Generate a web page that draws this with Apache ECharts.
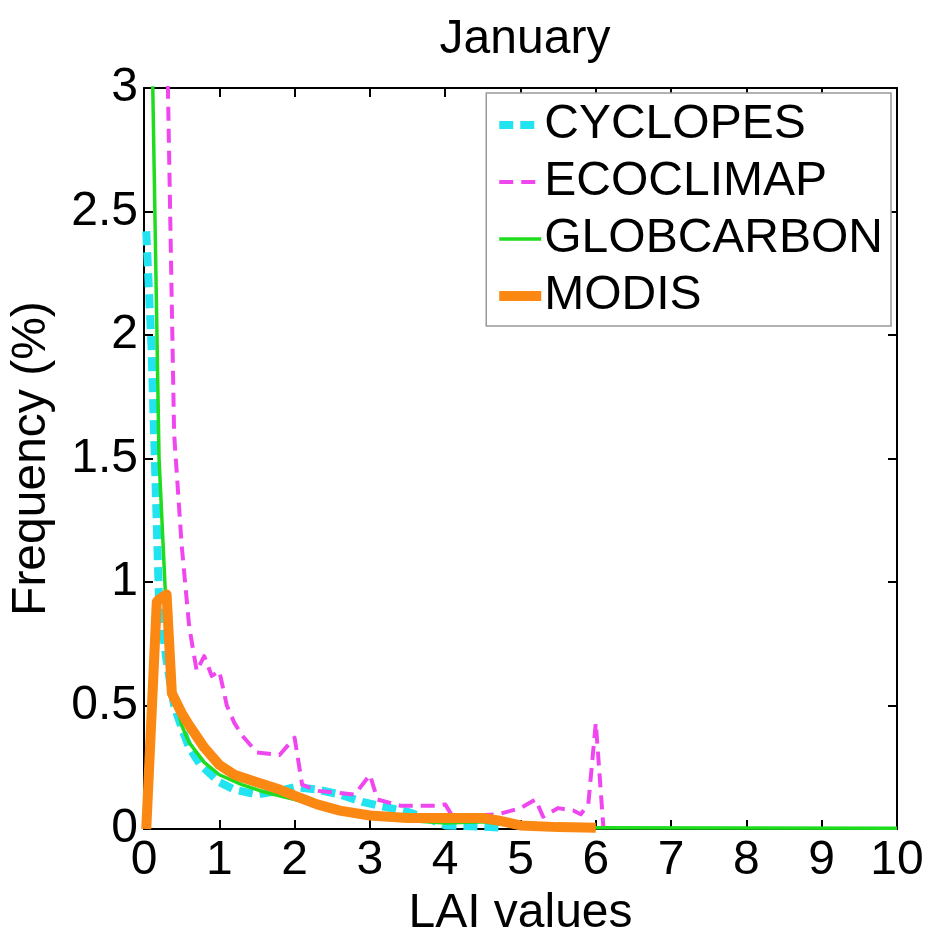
<!DOCTYPE html>
<html><head><meta charset="utf-8">
<script src="https://cdn.jsdelivr.net/npm/echarts@6/dist/echarts.min.js"></script>
<style>html,body{margin:0;padding:0;background:#fff}#c{width:928px;height:943px}</style>
</head><body><div id="c"></div>
<script>
const xTicks = [0,1,2,3,4,5,6,7,8,9,10];
const yTicks = [0,0.5,1,1.5,2,2.5,3];
const seriesNames = ['CYCLOPES','ECOCLIMAP','GLOBCARBON','MODIS'];

const cyclopesX = [0.03,0.1,0.2,0.3,0.4,0.5,0.6,0.75,1.0,1.2,1.5,1.8,2.0,2.3,2.6,2.9,3.2,3.5,3.8,4.0,4.5,4.8];
const cyclopesY = [2.42,1.95,0.92,0.68,0.5,0.41,0.33,0.26,0.19,0.16,0.14,0.155,0.17,0.16,0.14,0.11,0.09,0.07,0.04,0.015,0.01,0.005];

const ecoclimapX = [0.2,0.3,0.4,0.5,0.6,0.7,0.8,0.9,1.0,1.1,1.2,1.3,1.5,1.8,2.0,2.1,2.3,2.8,3.0,3.1,3.4,3.9,4.0,4.1,4.7,5.0,5.2,5.3,5.5,5.7,5.8,5.9,6.0,6.1];
const ecoclimapY = [8,3.3,1.6,1.15,0.82,0.64,0.7,0.62,0.64,0.5,0.43,0.38,0.31,0.3,0.37,0.18,0.155,0.14,0.22,0.12,0.095,0.095,0.1,0.05,0.06,0.085,0.12,0.05,0.085,0.075,0.06,0.1,0.43,0.01];

const globcarbonX = [0.0,0.1,0.2,0.3,0.4,0.5,0.6,0.8,1.0,1.3,1.6,2.0,2.5,3.0,3.5,4.0,4.5,5.0,6.0,10];
const globcarbonY = [8.0,3.3,1.5,0.85,0.55,0.42,0.35,0.27,0.22,0.18,0.15,0.12,0.08,0.05,0.035,0.025,0.03,0.01,0.005,0.003];

const modisX = [0.03,0.17,0.2,0.3,0.37,0.5,0.6,0.8,1.0,1.2,1.5,1.8,2.0,2.3,2.6,3.0,3.5,4.0,4.5,4.7,5.0,5.5,6.0];
const modisY = [0.0,0.92,0.93,0.95,0.55,0.47,0.42,0.33,0.26,0.22,0.19,0.16,0.135,0.1,0.075,0.055,0.045,0.045,0.045,0.035,0.015,0.008,0.005];

const pairs = (xs, ys) => xs.map((x, i) => [x, ys[i]]);
const FONT = 'Liberation Sans';
const FS = 48;

const styles = [
  {color: '#22e4f0', width: 8, type: [14, 7]},
  {color: '#f046f0', width: 4, type: [14, 8]},
  {color: '#1fdc1f', width: 3.5, type: 'solid'},
  {color: '#fa8812', width: 10, type: 'solid'}
];
const seriesData = [
  pairs(cyclopesX, cyclopesY), pairs(ecoclimapX, ecoclimapY),
  pairs(globcarbonX, globcarbonY), pairs(modisX, modisY)
];

const chart = echarts.init(document.getElementById('c'), null, {renderer: 'canvas'});
const axisBase = {
  axisLine: {show: true, onZero: false, lineStyle: {color: '#000', width: 2}},
  axisTick: {show: true, inside: true, length: 9, lineStyle: {color: '#000', width: 2}},
  splitLine: {show: false}
};
chart.setOption({
  backgroundColor: '#fff',
  animation: false,
  title: {text: 'January', left: 520, top: 11, textAlign: 'center',
    textStyle: {fontFamily: FONT, fontSize: FS, fontWeight: 'normal', color: '#000'}},
  grid: {left: 143, top: 88, width: 754, height: 754},
  legend: {
    orient: 'vertical', right: 37, top: 93,
    data: seriesNames.map((n, i) => ({name: n,
      lineStyle: {color: styles[i].color, width: styles[i].width, type: styles[i].type}})),
    itemWidth: 42, itemHeight: 22, itemGap: 9,
    padding: [8, 8, 6, 8],
    borderColor: '#999', borderWidth: 1.5, backgroundColor: '#fff',
    itemStyle: {opacity: 0},
    textStyle: {fontFamily: FONT, fontSize: FS, color: '#000', padding: [0,0,0,-2]}
  },
  xAxis: [Object.assign({
    type: 'value', min: 0, max: 10, interval: 1, position: 'bottom',
    name: 'LAI values', nameLocation: 'middle', nameGap: 56,
    nameTextStyle: {fontFamily: FONT, fontSize: FS, color: '#000'},
    axisLabel: {fontFamily: FONT, fontSize: FS, color: '#000', margin: 8,
      formatter: v => xTicks.includes(v) ? String(v) : ''}
  }, axisBase), Object.assign({
    type: 'value', min: 0, max: 10, interval: 1, position: 'top',
    axisLabel: {show: false}
  }, axisBase)],
  yAxis: [Object.assign({
    type: 'value', min: 0, max: 3, interval: 0.5, position: 'left',
    name: 'Frequency (%)', nameLocation: 'middle', nameGap: 88,
    nameTextStyle: {fontFamily: FONT, fontSize: FS, color: '#000'},
    axisLabel: {fontFamily: FONT, fontSize: FS, color: '#000', margin: 6,
      formatter: v => yTicks.includes(v) ? String(v) : ''}
  }, axisBase), Object.assign({
    type: 'value', min: 0, max: 3, interval: 0.5, position: 'right',
    axisLabel: {show: false}
  }, axisBase)],
  series: seriesNames.map((n, i) => ({
    name: n, type: 'line', data: seriesData[i], showSymbol: false, symbol: 'none',
    color: styles[i].color,
    lineStyle: {color: styles[i].color, width: styles[i].width, type: styles[i].type, join: 'round'},
    clip: true, z: 2 + i
  }))
});
</script></body></html>
